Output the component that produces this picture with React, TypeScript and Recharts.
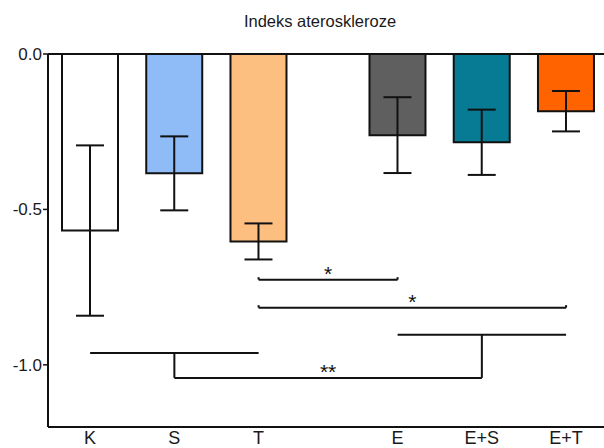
import React from 'react';
import {
  ComposedChart,
  Bar,
  Cell,
  ErrorBar,
  XAxis,
  YAxis,
  ReferenceLine,
} from 'recharts';

// groups and where they sit on the x axis (gap between T and E)
const categories = ['K', 'S', 'T', 'E', 'E+S', 'E+T'];
const positions = [1, 2, 3, 4.65, 5.65, 6.65];
const means = [-0.568, -0.384, -0.603, -0.261, -0.284, -0.184];
const sem = [0.274, 0.119, 0.058, 0.122, 0.105, 0.065];
const fills = ['#ffffff', '#8fbcf7', '#fdbf80', '#5f5f5f', '#077b94', '#ff6300'];

const yTicks = [0, -0.5, -1];

// significance bars: [fromX, toX, level, label]
const starLines: [number, number, number, string][] = [
  [3, 4.65, -0.726, '*'],
  [3, 6.65, -0.816, '*'],
];

// K/S/T vs E/E+S/E+T bracket
const leftGroup = { from: 1, to: 3, level: -0.962, stem: 2 };
const rightGroup = { from: 4.65, to: 6.65, level: -0.903, stem: 5.65 };
const bracketLevel = -1.042;
const bracketLabel = '**';

const data = categories.map((name, i) => ({
  name,
  pos: positions[i],
  value: means[i],
  err: sem[i],
}));

const INK = '#111';
const FONT = '"Liberation Sans", Arial, sans-serif';

const formatX = (v: number) => {
  const i = positions.indexOf(v);
  return i >= 0 ? categories[i] : '';
};

const starLabel = (value: string) => ({
  value,
  position: 'top' as const,
  offset: -1,
  fontSize: 21,
  fill: INK,
  fontFamily: FONT,
});

export default function App() {
  return (
    <div style={{ position: 'absolute', left: 0, top: 0, width: 604, height: 448, background: '#fff', fontFamily: FONT }}>
      <div
        style={{
          position: 'absolute',
          left: 170,
          width: 300,
          top: 12,
          textAlign: 'center',
          fontSize: 16.5,
          color: '#1a1a1a',
        }}
      >
        Indeks ateroskleroze
      </div>
      <ComposedChart
        width={604}
        height={448}
        data={data}
        margin={{ top: 54, right: 0, left: 0, bottom: 0 }}
      >
        <XAxis
          dataKey="pos"
          type="number"
          domain={[0.5, 7.1]}
          ticks={positions}
          interval={0}
          tickFormatter={formatX}
          tickLine={false}
          tickSize={0}
          tickMargin={4}
          height={21}
          axisLine={{ stroke: INK, strokeWidth: 2 }}
          tick={{ fill: '#1a1a1a', fontSize: 18, fontFamily: FONT }}
        />
        <YAxis
          type="number"
          domain={[-1.2, 0]}
          ticks={yTicks}
          width={48}
          tickFormatter={(v: number) => v.toFixed(1)}
          axisLine={{ stroke: INK, strokeWidth: 2 }}
          tickLine={{ stroke: INK, strokeWidth: 1.5 }}
          tickSize={5}
          tickMargin={1}
          tick={{ fill: '#1a1a1a', fontSize: 17, fontFamily: FONT }}
        />
        <ReferenceLine y={0} stroke={INK} strokeWidth={2} />
        <Bar dataKey="value" barSize={56} stroke={INK} strokeWidth={2} isAnimationActive={false}>
          {data.map((d, i) => (
            <Cell key={d.name} fill={fills[i]} />
          ))}
          <ErrorBar dataKey="err" width={14} stroke={INK} strokeWidth={2} direction="y" />
        </Bar>

        {starLines.map(([x1, x2, lvl, lbl], i) => (
          <ReferenceLine
            key={`s${i}`}
            segment={[{ x: x1, y: lvl }, { x: x2, y: lvl }]}
            stroke={INK}
            strokeWidth={2}
            label={starLabel(lbl)}
          />
        ))}
        {starLines.flatMap(([x1, x2, lvl], i) => [
          <ReferenceLine key={`a${i}`} segment={[{ x: x1, y: lvl }, { x: x1, y: lvl + 0.008 }]} stroke={INK} strokeWidth={2} />,
          <ReferenceLine key={`b${i}`} segment={[{ x: x2, y: lvl }, { x: x2, y: lvl + 0.008 }]} stroke={INK} strokeWidth={2} />,
        ])}

        <ReferenceLine
          segment={[{ x: leftGroup.from, y: leftGroup.level }, { x: leftGroup.to, y: leftGroup.level }]}
          stroke={INK}
          strokeWidth={2}
        />
        <ReferenceLine
          segment={[{ x: leftGroup.stem, y: leftGroup.level }, { x: leftGroup.stem, y: bracketLevel }]}
          stroke={INK}
          strokeWidth={2}
        />
        <ReferenceLine
          segment={[{ x: leftGroup.stem, y: bracketLevel }, { x: rightGroup.stem, y: bracketLevel }]}
          stroke={INK}
          strokeWidth={2}
          label={starLabel(bracketLabel)}
        />
        <ReferenceLine
          segment={[{ x: rightGroup.stem, y: bracketLevel }, { x: rightGroup.stem, y: rightGroup.level }]}
          stroke={INK}
          strokeWidth={2}
        />
        <ReferenceLine
          segment={[{ x: rightGroup.from, y: rightGroup.level }, { x: rightGroup.to, y: rightGroup.level }]}
          stroke={INK}
          strokeWidth={2}
        />
      </ComposedChart>
    </div>
  );
}
